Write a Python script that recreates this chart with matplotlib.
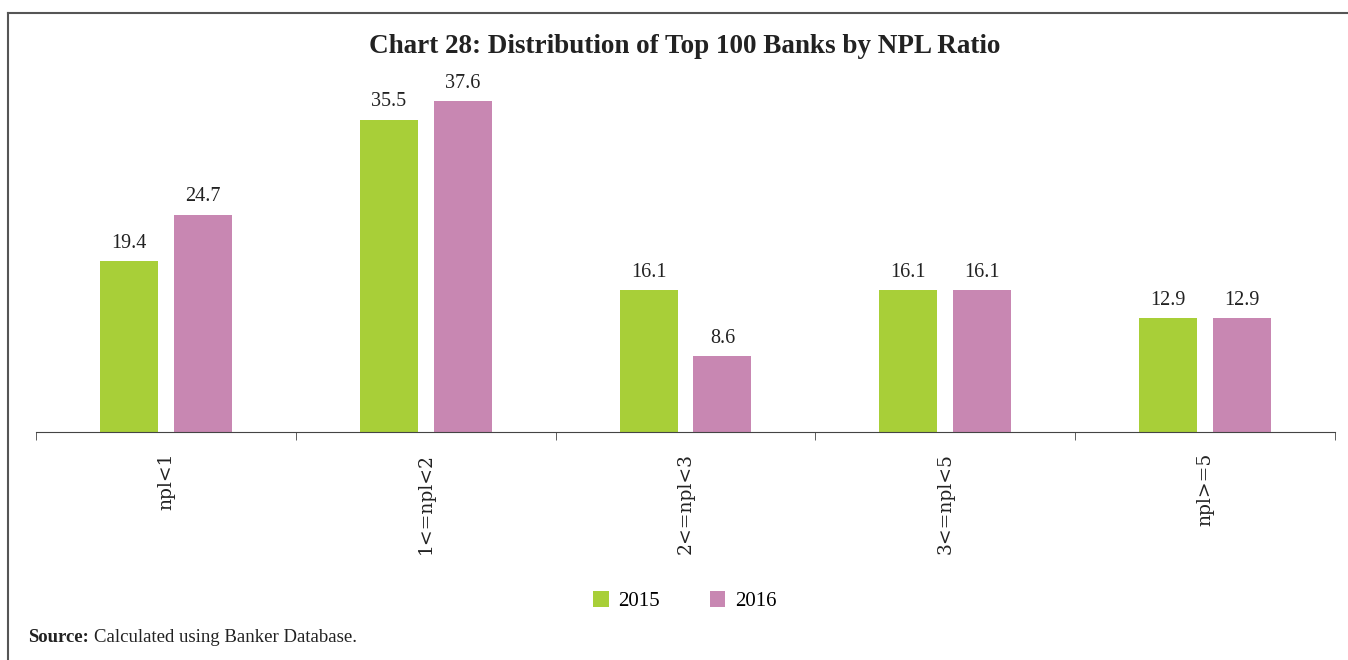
import numpy as np
import matplotlib.pyplot as plt
from matplotlib.lines import Line2D

# data
categories = ['npl<1', '1<=npl<2', '2<=npl<3', '3<=npl<5', 'npl>=5']
vals_2015 = [19.4, 35.5, 16.1, 16.1, 12.9]
vals_2016 = [24.7, 37.6, 8.6, 16.1, 12.9]
series_names = ['2015', '2016']

green = '#A8CF38'
pink = '#C887B2'

plt.rcParams['font.family'] = ['Liberation Serif', 'DejaVu Serif']

fig = plt.figure(figsize=(13.48, 6.6), dpi=100)
ax = fig.add_axes([36 / 1348, 1 - 432 / 660, (1335 - 36) / 1348, (432 - 80) / 660])

x = np.arange(len(categories))
w = 0.223
off = 0.142
b1 = ax.bar(x - off, vals_2015, w, color=green, label=series_names[0])
b2 = ax.bar(x + off, vals_2016, w, color=pink, label=series_names[1])

for bars in (b1, b2):
    for r in bars:
        ax.annotate('%.1f' % r.get_height(), (r.get_x() + r.get_width() / 2, r.get_height()),
                    xytext=(0, 6), textcoords='offset points', ha='center', va='bottom',
                    fontsize=14.5, color='#222222')

ax.set_xlim(-0.5, len(categories) - 0.5)
ax.set_ylim(0, 40)
ax.set_yticks([])
for s in ('top', 'right', 'left'):
    ax.spines[s].set_visible(False)
ax.spines['bottom'].set_color('#444444')

ax.set_xticks(x)
ax.set_xticklabels(categories, rotation=90, fontsize=13.5, color='#222222',
                   family='DejaVu Serif')
ax.tick_params(axis='x', which='major', length=0, pad=15)
ax.set_xticks(np.arange(-0.5, len(categories), 1), minor=True)
ax.tick_params(axis='x', which='minor', length=6, color='#444444', direction='out')

fig.text(0.508, 0.93, 'Chart 28: Distribution of Top 100 Banks by NPL Ratio',
         ha='center', va='center', fontsize=19.5, fontweight='bold', color='#222222')

fig.legend(handles=[b1, b2], loc='center', bbox_to_anchor=(0.508, 0.089), ncol=2,
           frameon=False, fontsize=15, handlelength=0.75, handleheight=0.75,
           columnspacing=2.4, handletextpad=0.45)

fig.text(28 / 1348, 1 - 637 / 660, 'Source:', fontsize=13.5, fontweight='bold',
         va='center', ha='left', color='#222222')
fig.text(94 / 1348, 1 - 637 / 660, 'Calculated using Banker Database.', fontsize=13.5,
         va='center', ha='left', color='#222222')

# frame lines (top and left)
fig.add_artist(Line2D([8 / 1348, 1.0], [1 - 13 / 660, 1 - 13 / 660], color='#555555', lw=1.5))
fig.add_artist(Line2D([8 / 1348, 8 / 1348], [0, 1 - 13 / 660], color='#555555', lw=1.5))

fig.savefig('out.png', dpi=100)
